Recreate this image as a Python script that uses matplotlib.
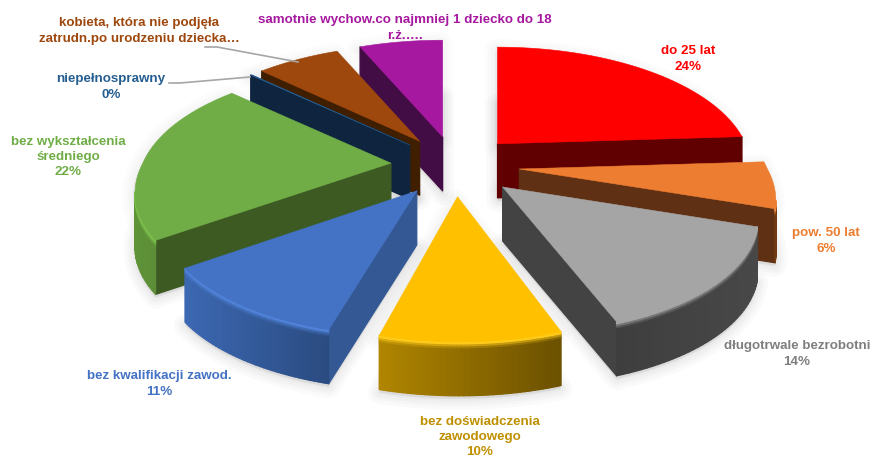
import numpy as np
import matplotlib
matplotlib.use("Agg")
import matplotlib.pyplot as plt
from matplotlib.patches import Polygon
from matplotlib.colors import to_rgb

plt.rcParams['font.family'] = ['Liberation Sans', 'DejaVu Sans']

# ---- data (clockwise from twelve o'clock) ----
names = ["do 25 lat", "pow. 50 lat", "długotrwale bezrobotni",
         "bez doświadczenia\nzawodowego", "bez kwalifikacji zawod.",
         "bez wykształcenia\nśredniego", "niepełnosprawny",
         "kobieta, która nie podjęła\nzatrudn.po urodzeniu dziecka…",
         "samotnie wychow.co najmniej 1 dziecko do 18\nr.ż.…."]
values = [24, 6.2, 14.4, 9.6, 10.8, 22, 0.1, 6.45, 6.45]
pct_labels = ["24%", "6%", "14%", "10%", "11%", "22%", "0%", "", ""]

face_colors = ["#FF0000", "#ED7D31", "#A5A5A5", "#FFC000", "#4472C4",
               "#70AD47", "#255E91", "#9E480E", "#A5189F"]
wall_colors = ["#600000", "#5F3013", "#434343", "#8A6800", "#335894",
               "#3C5A22", "#0F253F", "#3F1F00", "#420C45"]
rim_left = ["#600000", "#7F4315", "#3E3E3E", "#B08500", "#3C68B2",
            "#5F9338", "#0F253F", "#3F1F00", "#420C45"]
rim_right = ["#600000", "#6F3A12", "#484848", "#6B5000", "#2A4B80",
             "#4B7A2C", "#0F253F", "#3F1F00", "#420C45"]
edge_light = ["#FF0000", "#F08A40", "#A5A5A5", "#FFCB1A", "#4F82D8",
              "#7CC04E", "#255E91", "#9E480E", "#A5189F"]
text_colors = ["#FF0000", "#ED7D31", "#7F7F7F", "#BF9000", "#4472C4",
               "#70AD47", "#255E91", "#9E480E", "#A5189F"]
label_xy = [(688, 59), (826, 241), (797, 354), (480, 437), (159, 384),
            (68, 157), (111, 87), (139, 31), (405, 28)]

# ---- projection of the 3-D pie ----
CX, CY = 455, 165      # pie centre
VX = 450               # vanishing column for the near half
A, K = 248, 116        # horizontal / vertical radius
P = 0.2                # perspective strength
EXPLODE = 0.26
H = 54                 # thickness


def scale(Y):
    return 1 / (1 + P * Y)


def apex_of(m):
    s = scale(EXPLODE * np.cos(m))
    return (CX + A * EXPLODE * np.sin(m) * s,
            CY - K * EXPLODE * np.cos(m) * s)


def project(ax0, ay0, t, r=1.0):
    Y = r * np.cos(t)
    s = scale(Y)
    return (ax0 + A * r * np.sin(t) * s + (ax0 - VX) * np.maximum(s - 1, 0),
            ay0 - K * Y * s)


fig = plt.figure(figsize=(8.71, 4.58), dpi=100)
ax = fig.add_axes([0, 0, 1, 1])
ax.set_xlim(0, 871)
ax.set_ylim(458, 0)
ax.axis("off")

frac = np.array(values) / sum(values) * 2 * np.pi
stops = np.concatenate([[0], np.cumsum(frac)])
mids = (stops[:-1] + stops[1:]) / 2


def mix(c0, c1, f):
    c0, c1 = np.array(to_rgb(c0)), np.array(to_rgb(c1))
    return tuple(c0 + (c1 - c0) * f)


def quad(p0, p1, color, y0, y1, z):
    ax.add_patch(Polygon([(p0[0], p0[1] + y0), (p1[0], p1[1] + y0),
                          (p1[0], p1[1] + y1), (p0[0], p0[1] + y1)],
                         closed=True, fc=color, ec=color, lw=0.9,
                         joinstyle="round", zorder=z))


slices = []
for i in range(len(values)):
    ax0, ay0 = apex_of(mids[i])
    ts = np.linspace(stops[i], stops[i + 1], 40)
    xs, ys = project(ax0, ay0, ts)
    slices.append((ax0, ay0, xs, ys))

# soft shadows under everything
for (ax0, ay0, xs, ys) in slices:
    px = np.concatenate([[ax0], xs])
    py = np.concatenate([[ay0], ys])
    for w in (16, 11, 7, 3):
        ax.add_patch(Polygon(np.c_[px, py + H + 3], closed=True,
                             fc="#808080", ec="#808080", alpha=0.04, lw=w,
                             joinstyle="round", zorder=1))
        ax.add_patch(Polygon(np.c_[px - 2, py + 3], closed=True,
                             fc="#808080", ec="#808080", alpha=0.025, lw=w,
                             joinstyle="round", zorder=1))

order = np.argsort(-np.cos(mids))
z = 2
for i in order:
    ax0, ay0, xs, ys = slices[i]
    # radial walls (apex->rim start, rim end->apex), only when they face us
    for p0, p1 in (((ax0, ay0), (xs[0], ys[0])), ((xs[-1], ys[-1]), (ax0, ay0))):
        if p1[0] - p0[0] < 0:
            quad(p0, p1, wall_colors[i], 0, H, z)
    # rim, shaded from left to right, with a rounded bevel at its top edge
    xmin, xmax = xs.min(), xs.max()
    band = [(0, 2, edge_light[i], 0.0), (2, 4, edge_light[i], 0.45),
            (4, 6, edge_light[i], 0.8), (6, H, None, 1.0)]
    for y0, y1, c, g in reversed(band):
        for j in range(len(xs) - 1):
            if xs[j + 1] - xs[j] >= 0:
                continue
            f = ((xs[j] + xs[j + 1]) / 2 - xmin) / max(xmax - xmin, 1)
            base = mix(rim_left[i], rim_right[i], f)
            col = base if c is None else mix(c, base, g)
            quad((xs[j], ys[j]), (xs[j + 1], ys[j + 1]), col, y0, y1, z)
    # top face
    ax.add_patch(Polygon(np.c_[np.r_[ax0, xs], np.r_[ay0, ys]], closed=True,
                         fc=face_colors[i], ec=face_colors[i], lw=0.4, zorder=z))
    z += 1

# leader lines
leader_x = [[169, 180, 250], [205, 217, 298]]
leader_y = [[83, 83, 77], [47, 47, 62]]
for lx, ly in zip(leader_x, leader_y):
    ax.plot(lx, ly, color="#A6A6A6", lw=1.2, zorder=30)

# labels
for name, pct, col, (x, y) in zip(names, pct_labels, text_colors, label_xy):
    txt = name + ("\n" + pct if pct else "")
    ax.text(x, y, txt, color=col, fontsize=9.65, fontweight="bold",
            ha="center", va="center", linespacing=1.36, zorder=31)

fig.savefig("out.png", dpi=100)
